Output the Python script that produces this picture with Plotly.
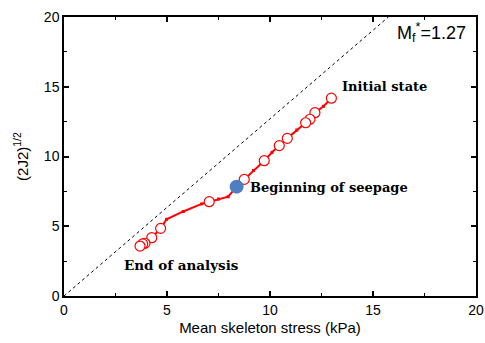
import plotly.graph_objects as go

# Data
path_p = [12.98, 12.6, 12.18, 11.94, 11.73, 11.3, 10.84, 10.45, 10.1, 9.72, 9.2, 8.75, 8.5, 8.38,
          7.97, 7.5, 7.05, 6.68, 5.79, 4.98, 4.69, 4.26, 3.93, 3.82, 3.69]
path_q = [14.18, 13.6, 13.14, 12.67, 12.42, 11.9, 11.30, 10.78, 10.3, 9.70, 9.0, 8.36, 8.0, 7.84,
          7.12, 6.95, 6.76, 6.6, 6.06, 5.5, 4.85, 4.18, 3.78, 3.73, 3.58]
circ_p = [12.98, 12.18, 11.94, 11.73, 10.84, 10.45, 9.72, 8.75, 7.05, 4.69, 4.26, 3.93, 3.82, 3.69]
circ_q = [14.18, 13.14, 12.67, 12.42, 11.30, 10.78, 9.70, 8.36, 6.76, 4.85, 4.18, 3.78, 3.73, 3.58]
seep_p = [8.38]
seep_q = [7.84]
Mf = 1.27
cs_p = [0, 20 / Mf]
cs_q = [0, 20]

fig = go.Figure()
fig.add_trace(go.Scatter(x=cs_p, y=cs_q, mode="lines",
                         line=dict(color="black", width=1, dash="dot"), showlegend=False))
fig.add_trace(go.Scatter(x=path_p, y=path_q, mode="lines+markers",
                         line=dict(color="red", width=2),
                         marker=dict(color="red", size=3, symbol="square"), showlegend=False))
fig.add_trace(go.Scatter(x=circ_p, y=circ_q, mode="markers",
                         marker=dict(color="white", size=10, symbol="circle",
                                     line=dict(color="red", width=1.2)), showlegend=False))
fig.add_trace(go.Scatter(x=seep_p, y=seep_q, mode="markers",
                         marker=dict(color="#4f7fc1", size=14, symbol="circle"), showlegend=False))

serif = dict(family="DejaVu Serif", size=13, color="black")
fig.add_annotation(x=13.4, y=15.05, text="<b>Initial state</b>", showarrow=False, font=serif,
                   xanchor="left")
fig.add_annotation(x=8.95, y=7.8, text="<b>Beginning of seepage</b>", showarrow=False,
                   font=serif, xanchor="left")
fig.add_annotation(x=2.8, y=2.2, text="<b>End of analysis</b>", showarrow=False,
                   font=dict(family="DejaVu Serif", size=13.5, color="black"), xanchor="left")
fig.add_annotation(x=19.6, y=18.9, text="M<sub>f</sub><sup>*</sup>=1.27", showarrow=False,
                   xanchor="right", font=dict(family="Liberation Sans", size=18, color="black"))

axis_common = dict(showgrid=False, zeroline=False, showline=True, linecolor="black", linewidth=1.5,
                   mirror="allticks", ticks="inside", ticklen=5, tickwidth=1.5, tickcolor="black",
                   range=[0, 20], dtick=5, automargin=False,
                   tickfont=dict(family="Liberation Sans", size=14, color="black"),
                   minor=dict(ticks="inside", ticklen=3, tickwidth=1.2, dtick=2.5, tickcolor="black"))
fig.update_xaxes(**axis_common,
                 title=dict(text="Mean skeleton stress (kPa)", standoff=6,
                            font=dict(family="Liberation Sans", size=15, color="black")))
fig.update_yaxes(**axis_common,
                 title=dict(text="(2J2)<sup>1/2</sup>", standoff=12,
                            font=dict(family="Liberation Sans", size=15, color="black")))
fig.update_layout(width=485, height=343, margin=dict(l=64, r=9, t=17, b=47),
                  plot_bgcolor="white", paper_bgcolor="white")
fig.write_html("out.html")
